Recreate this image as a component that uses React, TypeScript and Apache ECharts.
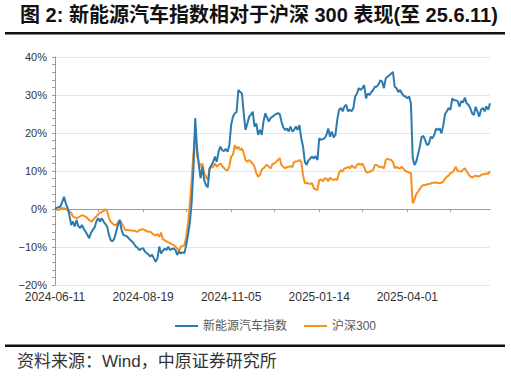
import React, { useEffect, useRef } from "react";
import * as echarts from "echarts";

// Series names
const seriesNames = ["新能源汽车指数", "沪深300"];

// Trading-day range and exchange holidays (weekday closures)
const startDate = "2024-06-11";
const endDate = "2025-06-11";
const holidays = [
  "2024-09-16", "2024-09-17", "2024-10-01", "2024-10-02", "2024-10-03", "2024-10-04", "2024-10-07",
  "2025-01-01", "2025-01-28", "2025-01-29", "2025-01-30", "2025-01-31", "2025-02-03", "2025-02-04",
  "2025-04-04", "2025-05-01", "2025-05-02", "2025-05-05", "2025-06-02",
];

// Cumulative returns, %
const nevIndex = [
  0, 0.3, 0.5, 0.6, 1.8, 3.2, 1.5, 0.3, -1.6, -4.2,
  -3.3, -4.6, -2.9, -4.5, -5, -4.2, -5.2, -6, -6.8, -7.7,
  -6.3, -5.5, -4.9, -3.3, -2.4, -3.3, -2.4, -3.3, -3.9, -4.6,
  -6.8, -8.2, -8.5, -7.8, -6, -4.2, -2.9, -5.5, -6.8, -7,
  -7.2, -7.7, -8.2, -8.6, -9.2, -9.9, -10.2, -10.8, -10.5, -10.3,
  -11.2, -11.6, -12, -12.5, -12, -13, -13.9, -13, -9.9, -11.7,
  -11, -10.4, -10.8, -9.9, -10.8, -10.5, -10.4, -10.8, -12.1, -11.2,
  -11.7, -11.4, -11.6, -9.5, -6.8, -3.7, 1.6, 10.3, 23.9, 16,
  11.6, 8.1, 11.1, 7.6, 6.3, 5.7, 10.7, 11.5, 12.4, 13.8,
  12.4, 15.1, 16.4, 15.5, 15.2, 15.8, 15.1, 16.8, 22.1, 24.3,
  25.2, 25.5, 31.3, 30.8, 30.4, 25.2, 20.8, 22.5, 24.3, 24.8,
  25.6, 21.7, 22.5, 19.5, 20.8, 19.5, 23, 25.2, 24, 23,
  24, 24.3, 24.7, 25, 25.2, 25, 23, 21.5, 20.8, 21.2,
  20.4, 21.7, 20.4, 20.8, 21.7, 20.8, 22.1, 18.6, 16.4, 12.4,
  11.6, 12.8, 13.3, 13.8, 13.3, 13.9, 12.9, 18.6, 18.2, 18.4,
  18.6, 19.5, 21.2, 19, 20.4, 18.8, 19.5, 23.4, 26.1, 26.6,
  25.7, 27, 27.4, 25.7, 26.1, 25.7, 26.6, 29.6, 30.4, 31.8,
  31.3, 31.8, 32.6, 29.1, 30.4, 30, 30.8, 31.3, 32.2, 32.2,
  32.8, 33.9, 33.5, 31.8, 34.4, 34.8, 35.2, 35.6, 36.1, 32.2,
  31.8, 30.8, 31.3, 30.4, 29.8, 29.6, 29.1, 29.6, 27.8, 13.5,
  11.6, 12.5, 14.5, 16.5, 19, 19.2, 18, 16.8, 17.2, 19,
  18.6, 19.5, 21.2, 20.8, 21.2, 19.9, 22, 25, 25.7, 26.6,
  26.1, 29.1, 28.6, 28.6, 28.4, 26.9, 28.4, 28, 29.3, 27.8,
  27.4, 26.6, 25.2, 24.7, 26.9, 25.7, 24.3, 26.1, 26.6, 25.7,
  27, 26.1, 27.8,
];

const csi300 = [
  0, -0.2, -0.3, 0.1, 0.2, 0.2, 0, -0.3, -0.6, -1,
  -2, -2.2, -2.4, -2.2, -1.9, -1.6, -1.8, -2, -2.4, -2.9,
  -3.3, -3, -2.4, -2, -1.4, -1, -0.8, -0.5, -0.1, -0.5,
  -2.4, -3.3, -3.8, -4.2, -4.2, -3.5, -2.9, -3.6, -4.5, -5.5,
  -5.5, -5.6, -5.6, -5.7, -5.7, -5.9, -6, -5.5, -5.4, -5.3,
  -5.6, -5.8, -6, -6, -6.4, -6.8, -6.9, -6.6, -7.3, -6.2,
  -8, -8.2, -8.5, -8.8, -9, -9.3, -9.5, -9.9, -10.4, -11.2,
  -9.9, -9.7, -9.5, -7.3, -3.8, 1.5, 7.5, 14.6, 20.5, 14,
  12.5, 11.1, 12, 9.5, 8.5, 7.6, 10.7, 10.9, 11.1, 12,
  11.1, 11.6, 12, 11.3, 10.8, 10.3, 10.1, 11.3, 13.8, 14.2,
  16.8, 15.8, 16.4, 15.5, 16, 14.6, 12.9, 12.4, 12.9, 12.4,
  12, 11.1, 9.4, 8.5, 9, 10.3, 10.7, 11.3, 11.6, 11.1,
  10.7, 11.9, 12, 12.4, 12.9, 13.4, 11.6, 11.1, 10.7, 11,
  11.1, 11.3, 11, 12.4, 12.5, 12.6, 12.9, 12.4, 8.9, 6.8,
  6.9, 6.7, 6.6, 6.8, 5.4, 5.2, 5, 7.6, 7.8, 7.3,
  8, 8, 7.3, 8.2, 7.9, 7.6, 7.9, 7.6, 9.4, 10.3,
  9.8, 10.7, 10.7, 11.1, 10.7, 11.4, 11.1, 10.7, 11.6, 12,
  11.6, 12, 11, 9.8, 9.6, 9.8, 10, 10.3, 11.6, 11.6,
  11.1, 11.1, 11, 10.7, 12.9, 13.2, 13, 12.9, 12.4, 10.7,
  11.1, 10.7, 10.7, 11.1, 10.5, 10, 9.8, 9.6, 9.4, 1.5,
  2.5, 4, 4.6, 5.3, 6, 6.3, 6.3, 6.5, 6.6, 6.7,
  6.9, 6.9, 7, 6.9, 6.8, 6.9, 7.2, 8, 8.5, 8.8,
  9.5, 9.6, 10.2, 11.1, 10, 9.9, 9.8, 10.3, 10.7, 9.9,
  9.2, 8.6, 8.3, 8.5, 8.8, 8.6, 8.6, 8.9, 9.2, 9.1,
  9.4, 9.2, 10,
];

const titleText = "图 2: 新能源汽车指数相对于沪深 300 表现(至 25.6.11)";
const sourceText = "资料来源：Wind，中原证券研究所";

function buildDates(): string[] {
  const out: string[] = [];
  const hol = new Set(holidays);
  const d = new Date(startDate + "T00:00:00Z");
  const end = new Date(endDate + "T00:00:00Z");
  while (d.getTime() <= end.getTime()) {
    const dow = d.getUTCDay();
    const s = d.toISOString().slice(0, 10);
    if (dow !== 0 && dow !== 6 && !hol.has(s)) out.push(s);
    d.setUTCDate(d.getUTCDate() + 1);
  }
  return out;
}

const BLUE = "#2b7bb0";
const ORANGE = "#f8901f";
const LATIN = "'Liberation Sans', Arial, 'Noto Sans CJK SC', sans-serif";

export default function App() {
  const ref = useRef<HTMLDivElement>(null);
  useEffect(() => {
    if (!ref.current) return;
    const chart = echarts.init(ref.current, undefined, { renderer: "svg" });
    const dates = buildDates();
    const labelEvery = 49;
    chart.setOption({
      animation: false,
      backgroundColor: "#ffffff",
      grid: { left: 55, right: 21, top: 57, bottom: 93, containLabel: false },
      legend: {
        data: seriesNames,
        left: 170,
        top: 315,
        icon: "rect",
        itemWidth: 23,
        itemHeight: 2,
        itemGap: 17,
        textStyle: { fontSize: 12, color: "#595959", fontFamily: LATIN },
      },
      graphic: [
        {
          type: "text",
          left: 20,
          top: 5,
          style: {
            text: titleText,
            fontSize: 20,
            fontWeight: "bold",
            fill: "#111",
            fontFamily: LATIN,
          },
        },
        { type: "rect", shape: { x: 5, y: 32, width: 500, height: 2.5 }, style: { fill: "#111" } },
        { type: "rect", shape: { x: 5, y: 344.5, width: 500, height: 2.5 }, style: { fill: "#111" } },
        {
          type: "text",
          left: 17,
          top: 353,
          style: { text: sourceText, fontSize: 17, fill: "#333", fontFamily: LATIN },
        },
      ],
      xAxis: [
        {
          type: "category",
          data: dates,
          boundaryGap: false,
          position: "bottom",
          axisLine: { show: false, onZero: false },
          axisTick: { show: false },
          splitLine: { show: false },
          axisLabel: {
            interval: (i: number) => i % labelEvery === 0,
            fontSize: 12,
            color: "#333",
            margin: 6,
            fontFamily: LATIN,
          },
        },
        {
          type: "category",
          data: dates,
          boundaryGap: false,
          position: "bottom",
          axisLine: { show: true, onZero: true, lineStyle: { color: "#9a9a9a", width: 1 } },
          axisTick: {
            show: true,
            length: 3,
            interval: (i: number) => i % labelEvery === 0 || i % labelEvery === 24,
            lineStyle: { color: "#9a9a9a" },
          },
          axisLabel: { show: false },
          splitLine: { show: false },
        },
      ],
      yAxis: {
        type: "value",
        min: -20,
        max: 40,
        interval: 10,
        axisLine: { show: true, lineStyle: { color: "#9a9a9a" } },
        axisTick: { show: true, length: 3, lineStyle: { color: "#9a9a9a" } },
        minorTick: { show: true, splitNumber: 5, length: 3, lineStyle: { color: "#9a9a9a" } },
        splitLine: { show: true, lineStyle: { color: "#e6e6e6", width: 1 } },
        minorSplitLine: { show: false },
        axisLabel: {
          fontSize: 11,
          color: "#333",
          margin: 8,
          fontFamily: LATIN,
          formatter: (v: number) => (v < 0 ? "\u2212" + Math.abs(v) : String(v)) + "%",
        },
      },
      series: [
        {
          name: seriesNames[0],
          type: "line",
          xAxisIndex: 0,
          data: nevIndex,
          showSymbol: false,
          symbol: "none",
          lineStyle: { color: BLUE, width: 2 },
          itemStyle: { color: BLUE },
          z: 3,
        },
        {
          name: seriesNames[1],
          type: "line",
          xAxisIndex: 0,
          data: csi300,
          showSymbol: false,
          symbol: "none",
          lineStyle: { color: ORANGE, width: 2 },
          itemStyle: { color: ORANGE },
          z: 2,
        },
      ],
    });
    return () => chart.dispose();
  }, []);
  return <div ref={ref} style={{ width: 511, height: 378, position: "absolute", left: 0, top: 0 }} />;
}
